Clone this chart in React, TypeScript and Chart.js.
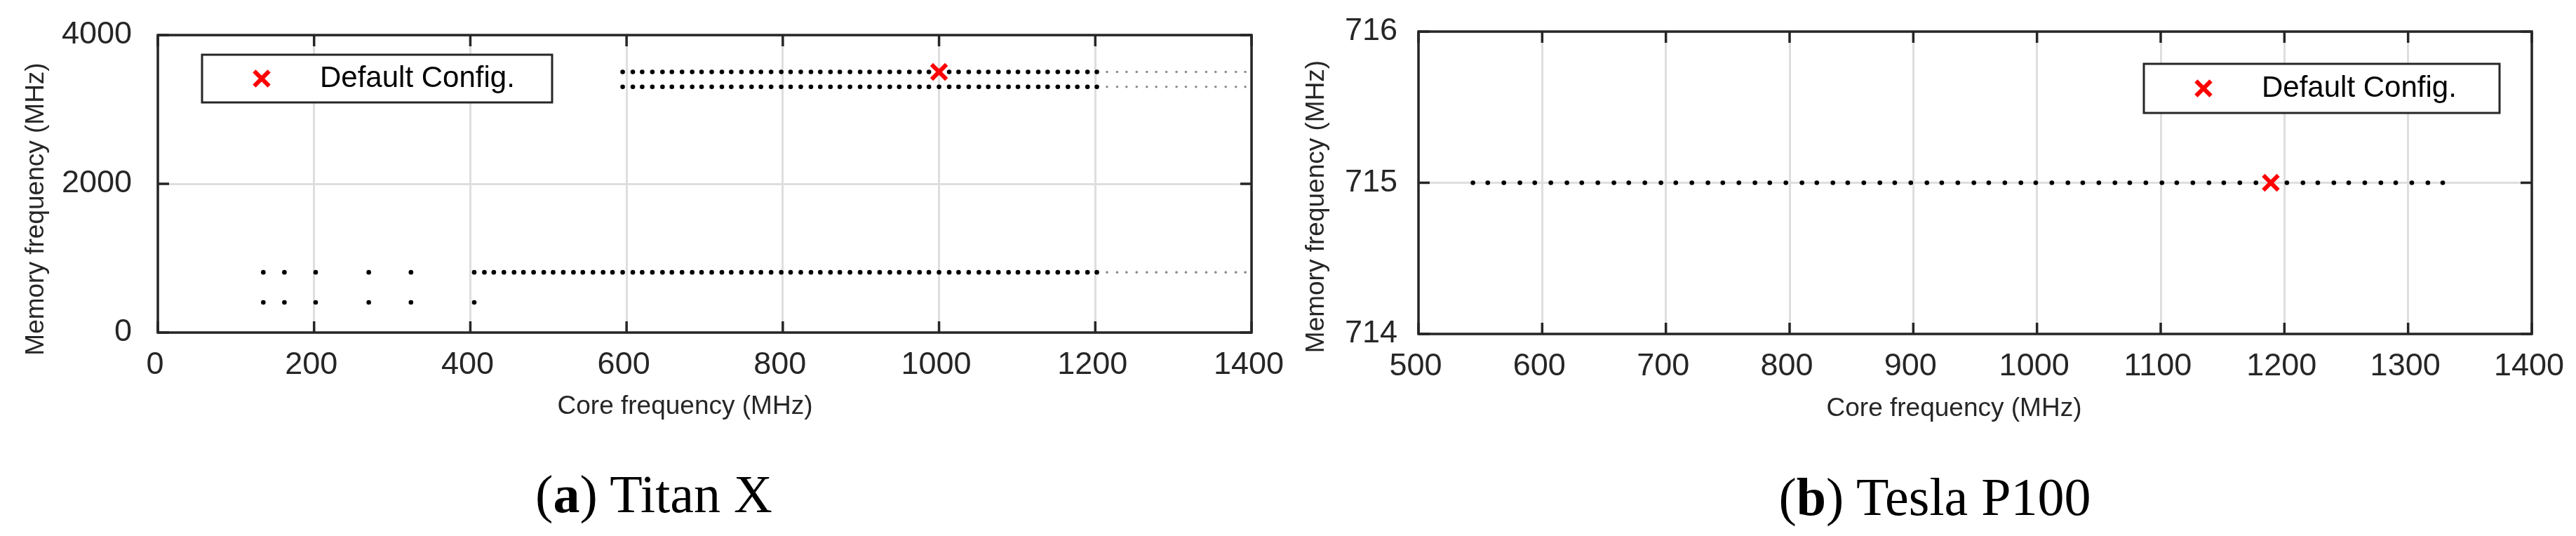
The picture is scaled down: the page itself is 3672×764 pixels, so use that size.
import React, { useEffect, useRef } from 'react';
import { Chart, registerables } from 'chart.js';

Chart.register(...registerables);

// ---------------- data ----------------
const TITAN_X_TICKS = [0, 200, 400, 600, 800, 1000, 1200, 1400];
const TITAN_Y_TICKS = [0, 2000, 4000];
const P100_X_TICKS = [500, 600, 700, 800, 900, 1000, 1100, 1200, 1300, 1400];
const P100_Y_TICKS = [714, 715, 716];

const TITAN_CORE_AT_3505 = [595, 608, 620, 633, 646, 658, 671, 684, 696, 709, 722, 734, 747, 760, 772, 785, 798, 810, 823, 836, 848, 861, 873, 886, 899, 911, 924, 937, 949, 962, 975, 987, 1000, 1013, 1025, 1038, 1051, 1063, 1076, 1089, 1101, 1114, 1127, 1139, 1152, 1165, 1177, 1190, 1202];
const TITAN_CORE_AT_3304 = [595, 608, 620, 633, 646, 658, 671, 684, 696, 709, 722, 734, 747, 760, 772, 785, 798, 810, 823, 836, 848, 861, 873, 886, 899, 911, 924, 937, 949, 962, 975, 987, 1000, 1013, 1025, 1038, 1051, 1063, 1076, 1089, 1101, 1114, 1127, 1139, 1152, 1165, 1177, 1190, 1202];
const TITAN_CORE_AT_810 = [135, 162, 202, 270, 324, 405, 418, 430, 443, 456, 468, 481, 494, 506, 519, 532, 544, 557, 570, 582, 595, 608, 620, 633, 646, 658, 671, 684, 696, 709, 722, 734, 747, 760, 772, 785, 798, 810, 823, 836, 848, 861, 873, 886, 899, 911, 924, 937, 949, 962, 975, 987, 1000, 1013, 1025, 1038, 1051, 1063, 1076, 1089, 1101, 1114, 1127, 1139, 1152, 1165, 1177, 1190, 1202];
const TITAN_CORE_AT_405 = [135, 162, 202, 270, 324, 405];
const TITAN_EXTRA_CORE = [1215, 1228, 1240, 1253, 1266, 1278, 1291, 1304, 1316, 1329, 1342, 1354, 1367, 1380, 1392];
const TITAN_EXTRA_MEM = [3505, 3304, 810];
const TITAN_DEFAULT_CORE = [1000];
const TITAN_DEFAULT_MEM = [3505];

const P100_CORE_AT_715 = [544, 556, 569, 582, 594, 607, 620, 632, 645, 658, 670, 683, 696, 708, 721, 734, 746, 759, 772, 784, 797, 810, 822, 835, 847, 860, 873, 885, 898, 911, 923, 936, 949, 961, 974, 987, 999, 1012, 1025, 1037, 1050, 1063, 1075, 1088, 1101, 1113, 1126, 1139, 1151, 1164, 1177, 1189, 1202, 1215, 1227, 1240, 1252, 1265, 1278, 1290, 1303, 1316, 1328];
const P100_MEM = 715;
const P100_DEFAULT_CORE = [1189];
const P100_DEFAULT_MEM = [715];

const LEGEND_LABEL = 'Default Config.';
const X_TITLE = 'Core frequency (MHz)';
const Y_TITLE = 'Memory frequency (MHz)';

// ---------------- styles ----------------
const SANS = '"Liberation Sans", Arial, Helvetica, sans-serif';
const AXIS = '#262626';
const GRID = '#dedede';
const TICK_LEN = 16;

const row = (cores: number[], mem: number) => cores.map((x) => ({ x, y: mem }));

const framePlugin = {
  id: 'frame',
  afterDraw(chart: any, _args: any, o: any) {
    const { ctx, chartArea: a } = chart;
    const xs = chart.scales.x;
    const ys = chart.scales.y;
    ctx.save();
    ctx.strokeStyle = AXIS;
    ctx.lineWidth = 3.5;
    ctx.beginPath();
    xs.ticks.forEach((t: any) => {
      const px = xs.getPixelForValue(t.value);
      ctx.moveTo(px, a.top);
      ctx.lineTo(px, a.top + TICK_LEN);
      ctx.moveTo(px, a.bottom);
      ctx.lineTo(px, a.bottom - TICK_LEN);
    });
    ys.ticks.forEach((t: any) => {
      const py = ys.getPixelForValue(t.value);
      ctx.moveTo(a.left, py);
      ctx.lineTo(a.left + TICK_LEN, py);
      ctx.moveTo(a.right, py);
      ctx.lineTo(a.right - TICK_LEN, py);
    });
    ctx.stroke();
    ctx.strokeRect(a.left, a.top, a.right - a.left, a.bottom - a.top);

    // axis titles
    ctx.fillStyle = AXIS;
    ctx.font = `37px ${SANS}`;
    ctx.textAlign = 'center';
    ctx.textBaseline = 'middle';
    ctx.fillText(o.xTitle, (a.left + a.right) / 2 + o.xTitleDx, a.bottom + o.xTitleDy);
    ctx.save();
    ctx.translate(a.left + o.yTitleDx, (a.top + a.bottom) / 2 + o.yTitleDy);
    ctx.rotate(-Math.PI / 2);
    ctx.fillText(o.yTitle, 0, 0);
    ctx.restore();

    // legend
    const ds = chart.data.datasets[0];
    const lx = a.left + o.legendDx;
    const ly = a.top + o.legendDy;
    ctx.fillStyle = '#ffffff';
    ctx.fillRect(lx, ly, o.legendW, o.legendH);
    ctx.lineWidth = 3;
    ctx.strokeStyle = AXIS;
    ctx.strokeRect(lx, ly, o.legendW, o.legendH);
    const mx = lx + 85;
    const my = ly + o.legendH / 2;
    const off = ds.pointRadius * Math.SQRT1_2;
    ctx.strokeStyle = ds.borderColor;
    ctx.lineWidth = ds.borderWidth;
    ctx.beginPath();
    ctx.moveTo(mx - off, my - off);
    ctx.lineTo(mx + off, my + off);
    ctx.moveTo(mx - off, my + off);
    ctx.lineTo(mx + off, my - off);
    ctx.stroke();
    ctx.fillStyle = '#000000';
    ctx.font = `42px ${SANS}`;
    ctx.textAlign = 'left';
    ctx.textBaseline = 'middle';
    ctx.fillText(ds.label, lx + 168, my);
    ctx.restore();
  },
};

const zeroPadding = (s: any) => {
  s.paddingTop = 0;
  s.paddingBottom = 0;
  s.paddingLeft = 0;
  s.paddingRight = 0;
};

function makeConfig(p: any) {
  const tickFont = { family: SANS, size: 45 };
  return {
    type: 'scatter',
    data: { datasets: p.datasets },
    options: {
      animation: false,
      responsive: false,
      events: [],
      layout: { padding: p.padding },
      plugins: {
        legend: { display: false },
        tooltip: { enabled: false },
        frame: p.frame,
      },
      scales: {
        x: {
          type: 'linear',
          min: p.xTicks[0],
          max: p.xTicks[p.xTicks.length - 1],
          afterBuildTicks: (s: any) => {
            s.ticks = p.xTicks.map((v: number) => ({ value: v }));
          },
          afterFit: (s: any) => {
            s.height = p.xAxisHeight;
            zeroPadding(s);
          },
          ticks: {
            callback: (v: any) => String(v),
            font: tickFont,
            color: AXIS,
            padding: 20,
            labelOffset: -4,
            autoSkip: false,
            maxRotation: 0,
          },
          grid: { color: GRID, lineWidth: 3, drawTicks: false },
          border: { display: false },
        },
        y: {
          type: 'linear',
          min: p.yTicks[0],
          max: p.yTicks[p.yTicks.length - 1],
          afterBuildTicks: (s: any) => {
            s.ticks = p.yTicks.map((v: number) => ({ value: v }));
          },
          afterFit: (s: any) => {
            s.width = p.yAxisWidth;
            zeroPadding(s);
          },
          ticks: {
            callback: (v: any) => String(v),
            font: tickFont,
            color: AXIS,
            padding: p.yPad,
            autoSkip: false,
          },
          grid: { color: GRID, lineWidth: 3, drawTicks: false },
          border: { display: false },
        },
      },
    },
    plugins: [framePlugin],
  } as any;
}

const defaultDataset = (cores: number[], mems: number[]) => ({
  label: LEGEND_LABEL,
  data: cores.map((x, i) => ({ x, y: mems[i] })),
  pointStyle: 'crossRot',
  pointRadius: 15,
  borderWidth: 6,
  borderColor: '#ff0000',
  backgroundColor: '#ff0000',
});

export default function App() {
  const leftRef = useRef<HTMLCanvasElement>(null);
  const rightRef = useRef<HTMLCanvasElement>(null);

  useEffect(() => {
    const titanBlack = [
      ...row(TITAN_CORE_AT_3505, 3505),
      ...row(TITAN_CORE_AT_3304, 3304),
      ...row(TITAN_CORE_AT_810, 810),
      ...row(TITAN_CORE_AT_405, 405),
    ];
    const titanGray = TITAN_EXTRA_MEM.flatMap((m) => row(TITAN_EXTRA_CORE, m));

    const left = new Chart(
      leftRef.current as HTMLCanvasElement,
      makeConfig({
        datasets: [
          defaultDataset(TITAN_DEFAULT_CORE, TITAN_DEFAULT_MEM),
          { label: 'supported', data: titanBlack, pointRadius: 3.3, borderWidth: 0, backgroundColor: '#000000', pointStyle: 'circle' },
          { label: 'other', data: titanGray, pointRadius: 1.8, borderWidth: 0, backgroundColor: '#8c8c8c', pointStyle: 'circle' },
        ],
        xTicks: TITAN_X_TICKS,
        yTicks: TITAN_Y_TICKS,
        padding: { left: 0, top: 50, right: 52, bottom: 0 },
        yAxisWidth: 225,
        xAxisHeight: 290,
        yPad: 37,
        frame: {
          xTitle: X_TITLE,
          yTitle: Y_TITLE,
          xTitleDx: -28,
          xTitleDy: 106,
          yTitleDx: -173,
          yTitleDy: 36,
          legendDx: 63,
          legendDy: 28,
          legendW: 499,
          legendH: 68,
        },
      })
    );

    const right = new Chart(
      rightRef.current as HTMLCanvasElement,
      makeConfig({
        datasets: [
          defaultDataset(P100_DEFAULT_CORE, P100_DEFAULT_MEM),
          { label: 'supported', data: row(P100_CORE_AT_715, P100_MEM), pointRadius: 3.3, borderWidth: 0, backgroundColor: '#000000', pointStyle: 'circle' },
        ],
        xTicks: P100_X_TICKS,
        yTicks: P100_Y_TICKS,
        padding: { left: 0, top: 45, right: 63, bottom: 0 },
        yAxisWidth: 186,
        xAxisHeight: 288,
        yPad: 30,
        frame: {
          xTitle: X_TITLE,
          yTitle: Y_TITLE,
          xTitleDx: -30,
          xTitleDy: 107,
          yTitleDx: -145,
          yTitleDy: 34,
          legendDx: 1034,
          legendDy: 46,
          legendW: 507,
          legendH: 70,
        },
      })
    );

    return () => {
      left.destroy();
      right.destroy();
    };
  }, []);

  const caption: React.CSSProperties = {
    position: 'absolute',
    width: 800,
    textAlign: 'center',
    fontFamily: '"Liberation Serif", "Times New Roman", serif',
    fontSize: 76,
    lineHeight: '76px',
    color: '#000',
    whiteSpace: 'nowrap',
  };

  return (
    <div style={{ position: 'absolute', left: 0, top: 0, width: 3672, height: 764, background: '#fff', overflow: 'hidden' }}>
      <canvas ref={leftRef} width={1836} height={764} style={{ position: 'absolute', left: 0, top: 0 }} />
      <canvas ref={rightRef} width={1836} height={764} style={{ position: 'absolute', left: 1836, top: 0 }} />
      <div style={{ ...caption, left: 932 - 400, top: 666 }}>
        (<b>a</b>) Titan X
      </div>
      <div style={{ ...caption, left: 2758 - 400, top: 670 }}>
        (<b>b</b>) Tesla P100
      </div>
    </div>
  );
}
